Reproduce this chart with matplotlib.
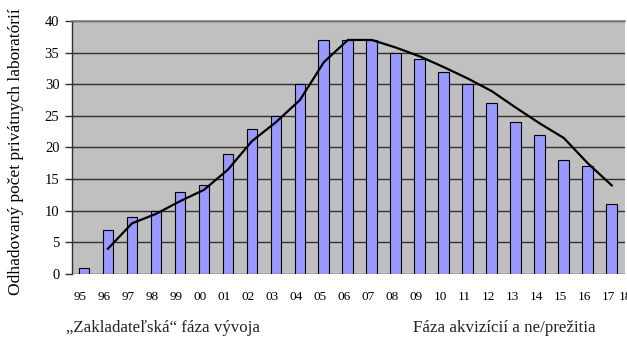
import matplotlib.pyplot as plt
import numpy as np

plt.rcParams['font.family'] = ['Liberation Serif', 'DejaVu Serif']

years = ['95', '96', '97', '98', '99', '00', '01', '02', '03', '04', '05', '06',
         '07', '08', '09', '10', '11', '12', '13', '14', '15', '16', '17']
labs = [1, 7, 9, 10, 13, 14, 19, 23, 25, 30, 37, 37, 37, 35, 34, 32, 30, 27, 24,
        22, 18, 17, 11]
# trend curve, from 96 to 17
trend = [4, 8, 9.5, 11.5, 13.3, 16.5, 21, 24, 27.5, 33.5, 37, 37, 35.8, 34.4,
         32.7, 30.9, 28.9, 26.3, 23.8, 21.5, 17.5, 14]

fig = plt.figure(figsize=(6.27, 3.43), dpi=100)
ax = fig.add_axes([0.1148, 0.2012, 0.882, 0.7376])
ax.set_facecolor('#c0c0c0')

x = np.arange(len(years))
ax.bar(x, labs, width=0.45, color='#9999ff', edgecolor='black', linewidth=0.8, zorder=3)
ax.plot(x[1:], trend, color='black', linewidth=1.6, zorder=4)

ax.set_xlim(-0.5, len(years) - 0.5)
ax.set_ylim(0, 40)
ax.set_yticks(range(0, 41, 5))
ax.yaxis.grid(True, color='#303030', linewidth=1.0, zorder=1)
ax.tick_params(axis='y', length=5, width=1.0, color='#303030', labelsize=10.5, pad=4)

ax.set_xticks(list(x - 0.15) + [len(years) - 0.45])
ax.set_xticklabels(years + ['18'], fontsize=9.5)
ax.tick_params(axis='x', length=0, pad=12)

for side in ['right', 'bottom']:
    ax.spines[side].set_visible(False)
ax.spines['left'].set_color('#303030')
ax.spines['left'].set_linewidth(1.0)
ax.spines['top'].set_color('#808080')
ax.spines['top'].set_linewidth(1.2)

fig.text(0.025, 0.557, 'Odhadovaný počet privátnych laboratórií', rotation=90,
         ha='center', va='center', fontsize=12.5)
fig.text(0.105, 0.044, '„Zakladateľská“ fáza vývoja', fontsize=12.2,
         va='center', color='#222222')
fig.text(0.659, 0.044, 'Fáza akvizícií a ne/prežitia', fontsize=12.2,
         va='center', color='#222222')

plt.savefig('out.png', dpi=100)
